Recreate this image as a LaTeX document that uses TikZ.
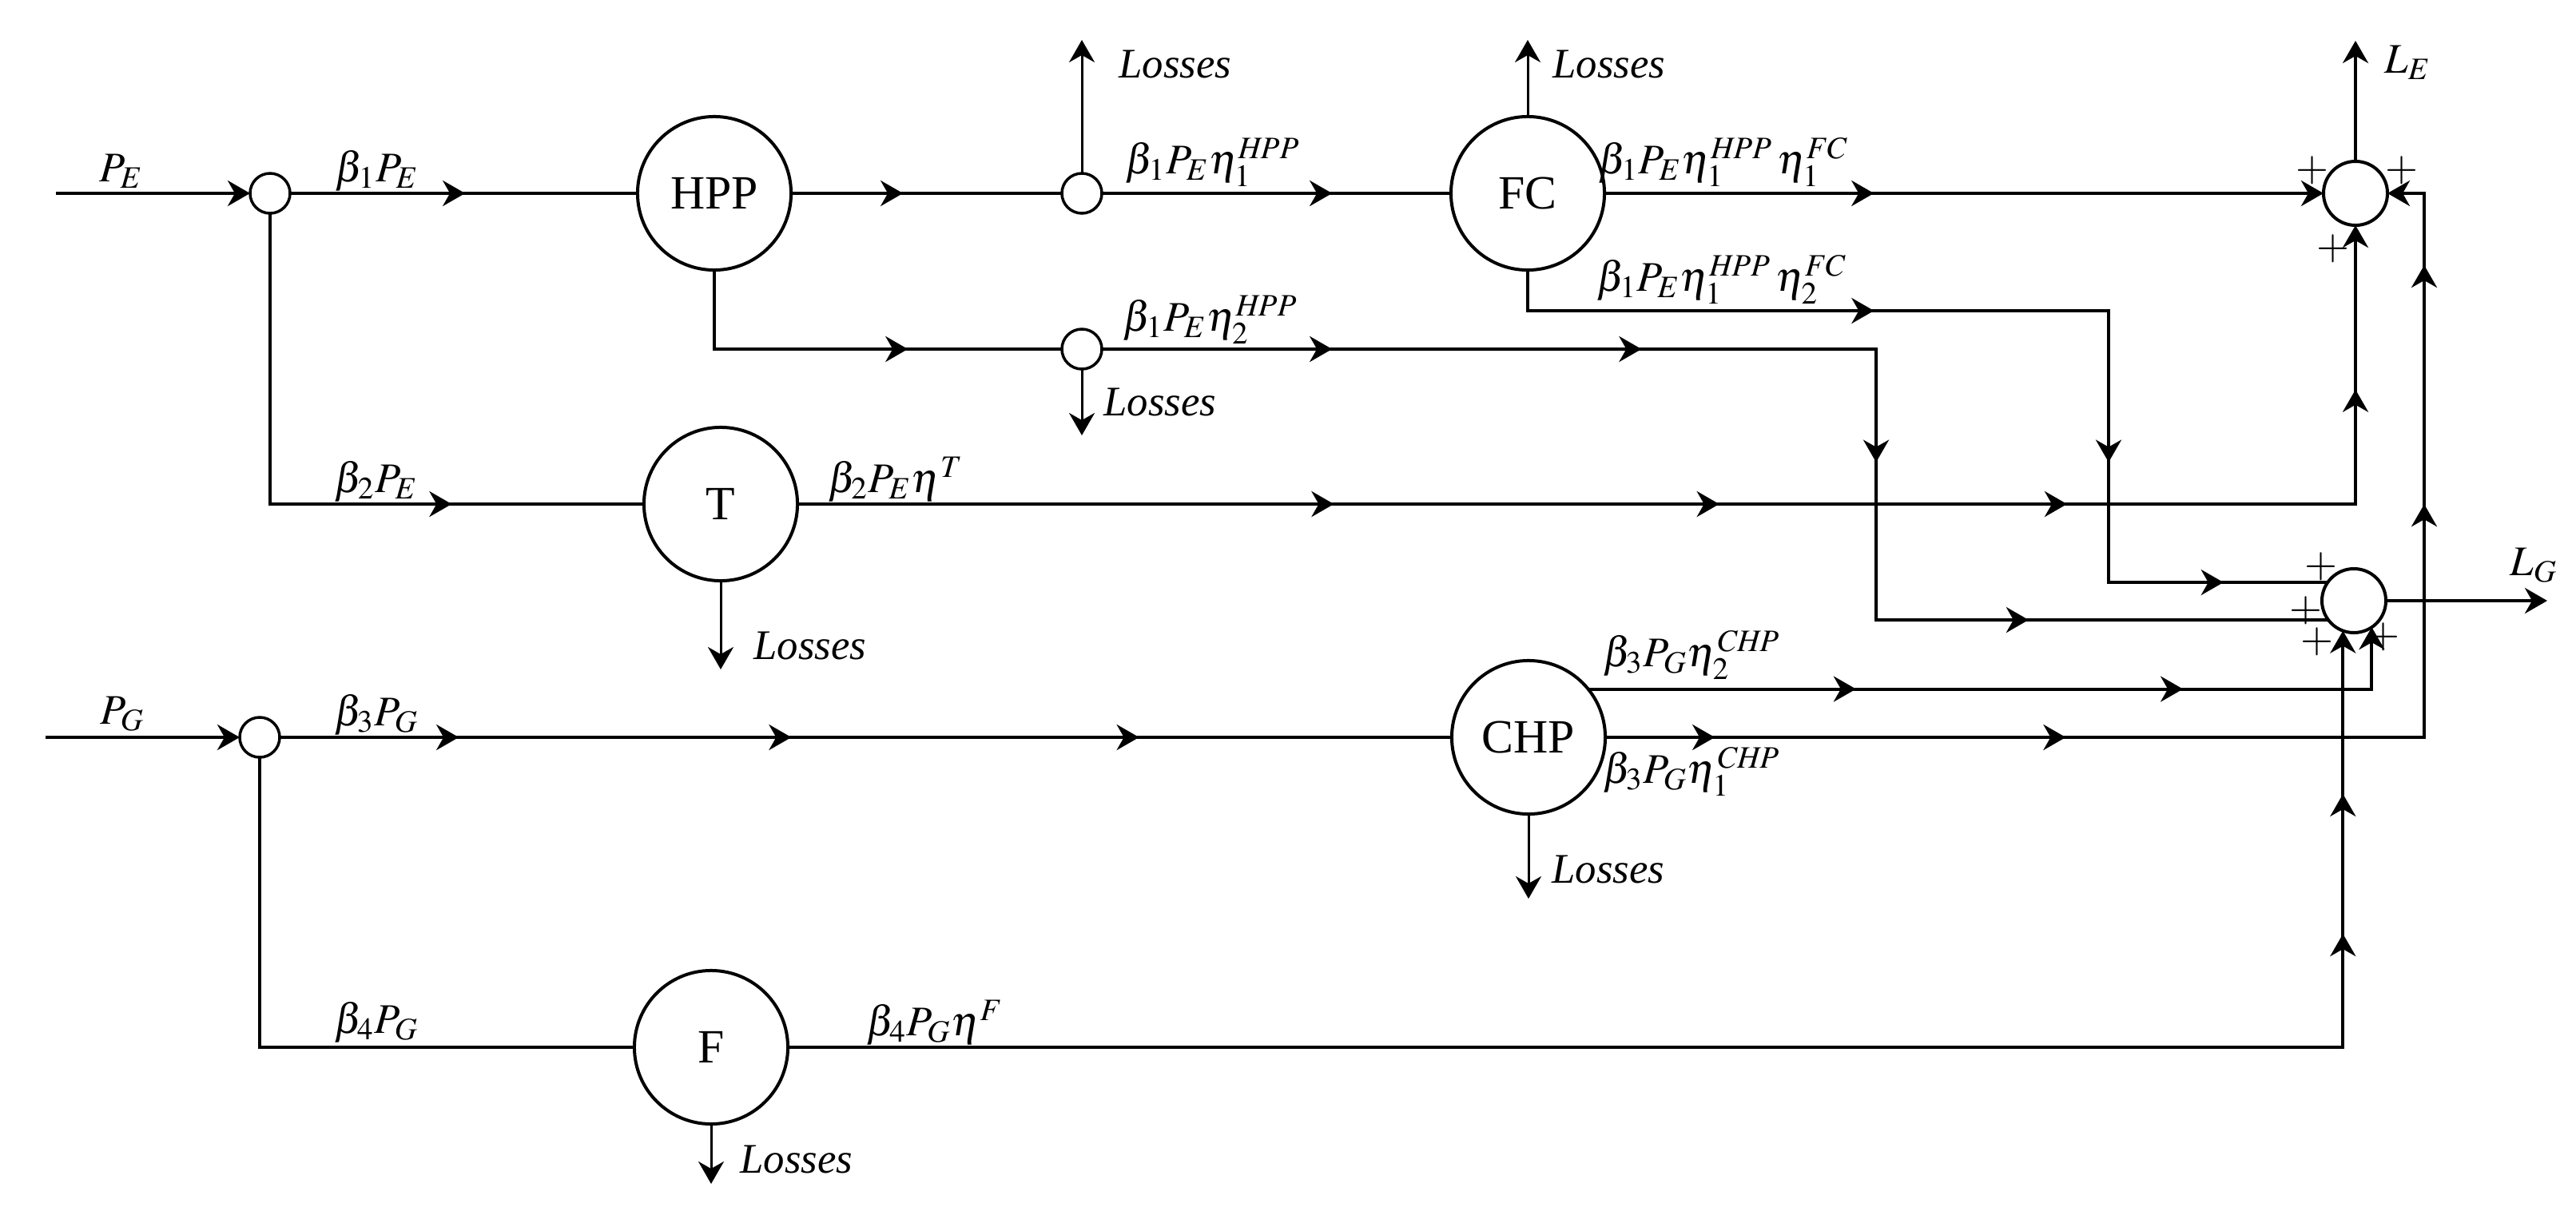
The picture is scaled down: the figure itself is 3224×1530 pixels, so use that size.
\documentclass[tikz,border=0pt]{standalone}
\usepackage{mathptmx}
\usepackage{fontspec}
\setmainfont{Liberation Serif}
\usetikzlibrary{arrows.meta,decorations.markings}

\begin{document}
\begin{tikzpicture}[x=0.01cm, y=-0.01cm,
    font=\fontsize{15}{18}\selectfont,
    >={Stealth[length=0.28cm,width=0.32cm,inset=0.09cm]},
    unit/.style={circle, draw, line width=0.04cm, minimum size=1.92cm, inner sep=0pt, outer sep=0pt, font=\fontsize{17}{20}\selectfont},
    junc/.style={circle, draw, line width=0.035cm, minimum size=0.5cm, inner sep=0pt, outer sep=0pt},
    summ/.style={circle, draw, line width=0.04cm, minimum size=0.8cm, inner sep=0pt, outer sep=0pt},
    flow/.style={line width=0.04cm},
    lossline/.style={line width=0.03cm, ->},
    flowarrow/.style={postaction={decorate, decoration={markings, mark=at position #1 with {\arrow{>}}}}}]

    \useasboundingbox (0,0) rectangle (3224,1530);

    \node[junc] (j1) at (338,242) {};
    \node[unit] (hpp) at (894,242) {HPP};
    \node[junc] (j2) at (1354,242) {};
    \node[unit] (fc) at (1912,242) {FC};
    \node[summ] (s1) at (2948,242) {};
    \node[junc] (j3) at (1354,437) {};
    \node[unit] (t) at (902,631) {T};
    \node[summ] (s2) at (2946,752) {};
    \node[junc] (j4) at (325,923) {};
    \node[unit] (chp) at (1913,923) {CHP};
    \node[unit] (f) at (890,1311) {F};

    \coordinate (pe) at (70,242);
    \coordinate (pg) at (57,923);
    \coordinate (lj2) at (1354,50);
    \coordinate (lfc) at (1912,50);
    \coordinate (lj3) at (1354,545);
    \coordinate (lt) at (902,838);
    \coordinate (lchp) at (1913,1125);
    \coordinate (lf) at (890,1482);
    \coordinate (le) at (2948,51);
    \coordinate (lg) at (3188,752);
    \coordinate (fcbend) at (2639,389);
    \coordinate (hppbend) at (2348,776);
    \coordinate (chpbend) at (3034,242);

    \draw[flow, ->] (pe) -- (j1);
    \draw[flow, flowarrow=2.19cm] (j1) -- (hpp);
    \draw[flow, flowarrow=1.4cm] (hpp) -- (j2);
    \draw[flow, flowarrow=2.88cm] (j2) -- (fc);
    \draw[flow, ->, flowarrow=3.37cm] (fc) -- (s1);
    \draw[flow, flowarrow=4.84cm, flowarrow=9.67cm, flowarrow=12.61cm] (fc) |- (fcbend) |- (s2.145);
    \draw[flow, flowarrow=3.41cm] (hpp) |- (j3);
    \draw[flow, flowarrow=2.88cm, flowarrow=6.75cm, flowarrow=11.1cm, flowarrow=14.98cm] (j3) -| (hppbend) -- (s2.217);
    \draw[flow, flowarrow=5.91cm] (j1) |- (t);
    \draw[flow, ->, flowarrow=6.71cm, flowarrow=11.53cm, flowarrow=15.88cm, flowarrow=20.92cm] (t) -| (s1);

    \draw[flow, ->] (pg) -- (j4);
    \draw[flow, flowarrow=2.24cm, flowarrow=6.4cm, flowarrow=10.75cm] (j4) -- (chp);
    \draw[flow] (j4) |- (f);
    \draw[flow, ->, flowarrow=20.87cm, flowarrow=22.62cm] (f) -| (s2.-110);
    \draw[flow, ->, flowarrow=1.37cm, flowarrow=5.76cm, flowarrow=13.16cm, flowarrow=16.15cm] (chp) -| (chpbend) -- (s1);
    \draw[flow, ->, flowarrow=3.35cm, flowarrow=7.44cm] (chp.39) -| (s2.-56);

    \draw[flow, ->] (s1) -- (le);
    \draw[flow, ->] (s2) -- (lg);

    \draw[lossline] (j2) -- (lj2);
    \draw[lossline] (fc) -- (lfc);
    \draw[lossline] (j3) -- (lj3);
    \draw[lossline] (t) -- (lt);
    \draw[lossline] (chp) -- (lchp);
    \draw[lossline] (f) -- (lf);

    \node (lblpe) at (152,214) {$P_E$};
    \node (lblpg) at (153,894) {$P_G$};
    \node (lblb1) at (472,214) {$\beta_1P_E$};
    \node (lblb2) at (471,603) {$\beta_2P_E$};
    \node (lblb3) at (471,895) {$\beta_3P_G$};
    \node (lblb4) at (471,1280) {$\beta_4P_G$};
    \node (lblhpp1) at (1518,203) {$\beta_1P_E\eta_1^{\mathit{HPP}}$};
    \node (lblhpp2) at (1515,400) {$\beta_1P_E\eta_2^{\mathit{HPP}}$};
    \node (lblfc1) at (2157,203) {$\beta_1P_E\eta_1^{\mathit{HPP}}\,\eta_1^{\mathit{FC}}$};
    \node (lblfc2) at (2155,350) {$\beta_1P_E\eta_1^{\mathit{HPP}}\,\eta_2^{\mathit{FC}}$};
    \node (lblt) at (1121,600) {$\beta_2P_E\eta^{T}$};
    \node (lblchp2) at (2117,820) {$\beta_3P_G\eta_2^{\mathit{CHP}}$};
    \node (lblchp1) at (2117,966) {$\beta_3P_G\eta_1^{\mathit{CHP}}$};
    \node (lblf) at (1170,1280) {$\beta_4P_G\eta^{F}$};

    \node[anchor=west] (lossj2) at (1388,80) {\textit{Losses}};
    \node[anchor=west] (lossfc) at (1931,80) {\textit{Losses}};
    \node[anchor=west] (lossj3) at (1369,503) {\textit{Losses}};
    \node[anchor=west] (losst) at (931,808) {\textit{Losses}};
    \node[anchor=west] (losschp) at (1930,1088) {\textit{Losses}};
    \node[anchor=west] (lossf) at (914,1451) {\textit{Losses}};
    \node[anchor=west] (lble) at (2972,78) {$L_E$};
    \node[anchor=west] (lblg) at (3129,708) {$L_G$};

    \node (plus1) at (2894,213) {$+$};
    \node (plus2) at (3006,213) {$+$};
    \node (plus3) at (2920,311) {$+$};
    \node (plus4) at (2905,709) {$+$};
    \node (plus5) at (2886,764) {$+$};
    \node (plus6) at (2900,803) {$+$};
    \node (plus7) at (2983,797) {$+$};
\end{tikzpicture}
\end{document}
